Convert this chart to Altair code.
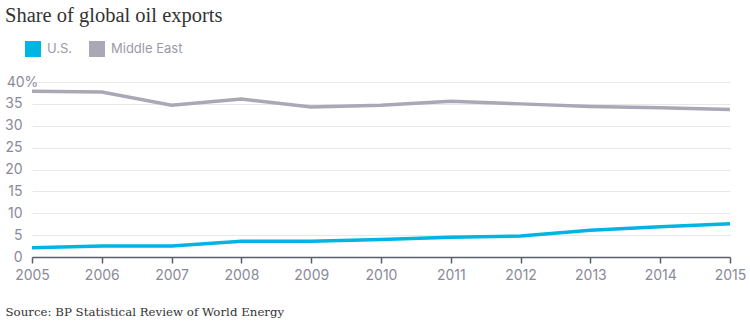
import altair as alt
import pandas as pd

years = list(range(2005, 2016))
us = [2.1, 2.5, 2.5, 3.6, 3.6, 4.0, 4.5, 4.8, 6.1, 6.9, 7.6]
middle_east = [37.9, 37.7, 34.7, 36.1, 34.3, 34.7, 35.6, 35.0, 34.4, 34.1, 33.7]
series = ["U.S.", "Middle East"]
colors = ["#00b5e2", "#aaa8b6"]
y_ticks = [0, 5, 10, 15, 20, 25, 30, 35, 40]

rows = []
for i, yr in enumerate(years):
    rows.append({"year": yr, "series": "U.S.", "value": us[i]})
    rows.append({"year": yr, "series": "Middle East", "value": middle_east[i]})
df = pd.DataFrame(rows)

label_color = "#8a8a9a"
sans = "Inter"

chart = alt.Chart(df).mark_line(strokeWidth=3.5).encode(
    x=alt.X(
        "year:Q",
        scale=alt.Scale(domain=[2005, 2015], nice=False, zero=False),
        axis=alt.Axis(
            values=years,
            format="d",
            grid=False,
            labelFlush=False,
            domainColor="#5c5f6b",
            domainWidth=1.5,
            tickColor="#5c5f6b",
            tickWidth=1.5,
            tickSize=6,
            labelPadding=5,
            labelColor=label_color,
            labelFont=sans,
            labelFontSize=14,
            title="Source: BP Statistical Review of World Energy",
            titleFont="DejaVu Serif",
            titleFontSize=11.8,
            titleFontWeight="normal",
            titleColor="#333333",
            titleAnchor="start",
            titleAlign="left",
            titleX=-27,
            titleY=58,
            titleBaseline="alphabetic",
        ),
    ),
    y=alt.Y(
        "value:Q",
        scale=alt.Scale(domain=[0, 40]),
        axis=alt.Axis(
            values=y_ticks,
            title=None,
            domain=False,
            ticks=False,
            gridColor="#e8e8e8",
            gridWidth=1,
            labelPadding=10,
            labelColor=label_color,
            labelFont=sans,
            labelFontSize=14,
            labelExpr="datum.value == 40 ? '40%' : datum.label",
            labelAlign={"condition": {"test": "datum.value == 40", "value": "center"}, "value": "right"},
            minExtent=32,
            maxExtent=32,
        ),
    ),
    color=alt.Color(
        "series:N",
        scale=alt.Scale(domain=series, range=colors),
        sort=series,
        legend=alt.Legend(
            title=None,
            orient="none",
            direction="horizontal",
            legendX=-7,
            legendY=-41,
            symbolType="square",
            symbolSize=64,
            symbolStrokeWidth=8,
            symbolOpacity=1,
            labelColor="#9a9aa8",
            labelFont=sans,
            labelFontSize=13,
            labelOffset=6,
            columnPadding=4,
        ),
    ),
).properties(
    width=698,
    height=175,
    title=alt.TitleParams(
        "Share of global oil exports",
        font="Liberation Serif",
        fontSize=20.5,
        fontWeight="normal",
        color="#333333",
        anchor="start",
        frame="bounds",
        dx=5,
        offset=15,
    ),
    padding={"left": 0, "top": 5, "right": 0, "bottom": 0},
).configure_view(stroke=None)

chart.save("out.html", embed_options={"renderer": "svg", "actions": False})
